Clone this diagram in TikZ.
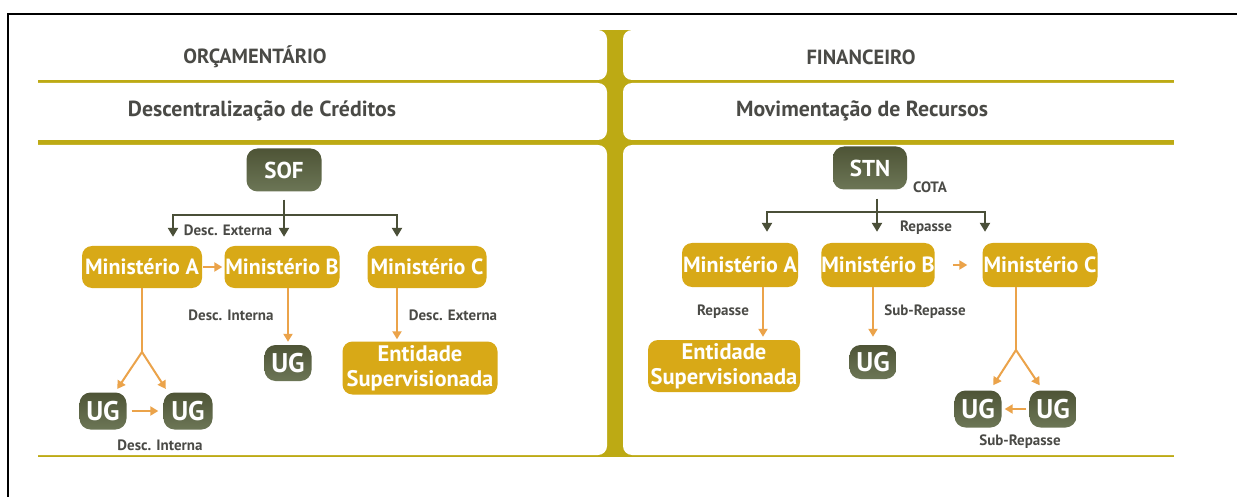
\documentclass[tikz,border=0pt]{standalone}
\usepackage{fontspec}
\setmainfont{PT Sans}
\usetikzlibrary{arrows.meta,calc}
\definecolor{olive}{HTML}{BDAA14}
\definecolor{gold}{HTML}{D8A917}
\definecolor{darktop}{HTML}{4E5436}
\definecolor{darkbot}{HTML}{6C7656}
\definecolor{inkdark}{HTML}{4A4F38}
\definecolor{orangeln}{HTML}{EBA34A}
\definecolor{textgray}{HTML}{4A4A46}
\newcommand{\fsz}[1]{\fontsize{#1}{#1}\selectfont}
\tikzset{
  hdr/.style={text=textgray, font=\bfseries\fsz{20.5}, inner sep=0pt},
  subhdr/.style={text=textgray, font=\bfseries\fsz{21.8}, inner sep=0pt},
  lbl/.style={text=textgray, font=\bfseries\fsz{15}, inner sep=0pt},
  ministry/.style={fill=gold, rounded corners=10pt, text=white,
    font=\bfseries\fsz{22}, inner sep=0pt, minimum height=42pt},
  entity/.style={ministry, align=center, font=\bfseries\fontsize{22.5}{25}\selectfont},
  darkbox/.style={top color=darktop, bottom color=darkbot, rounded corners=11pt,
    text=white, inner sep=0pt},
  ugbox/.style={darkbox, font=\bfseries\fsz{27}, minimum width=47pt, minimum height=37pt},
  rootbox/.style={darkbox, font=\bfseries\fsz{23}, minimum height=43pt},
  dkline/.style={draw=inkdark, line width=2.6pt},
  dkarrow/.style={dkline, -{Triangle[width=10pt,length=9pt]}},
  orline/.style={draw=orangeln, line width=2pt},
  orarrow/.style={orline, -{Triangle[width=9pt,length=8pt]}},
}
\begin{document}
\begin{tikzpicture}[x=1pt,y=-1pt]
\useasboundingbox (0,0) rectangle (1237,497);
% outer frame
\draw[line width=2pt] (8,497) -- (8,14) -- (1237,14);

% olive grid: a filled backdrop with white rounded cells on top
\fill[olive] (38,30) rectangle (1174,457);
\begin{scope}[fill=white, rounded corners=9pt]
  \fill (20,30) rectangle (607,80);
  \fill (20,83) rectangle (607,140);
  \fill (20,145) rectangle (607,455);
  \fill (623,30) rectangle (1190,80);
  \fill (623,83) rectangle (1190,140);
  \fill (623,145) rectangle (1190,455);
\end{scope}

% headings
\node[hdr] (hL) at (255,57) {ORÇAMENTÁRIO};
\node[hdr] (hR) at (861,57) {FINANCEIRO};
\node[subhdr] (sL) at (262,111) {Descentralização de Créditos};
\node[subhdr] (sR) at (862,111) {Movimentação de Recursos};

% ---------- budget side ----------
\node[rootbox, minimum width=75pt] (sof) at (284,170) {SOF};
\node[ministry, minimum width=120pt] (miA) at (142,267) {Ministério A};
\node[ministry, minimum width=115pt] (miB) at (282,267) {Ministério B};
\node[ministry, minimum width=119pt] (miC) at (427,267) {Ministério C};
\node[ugbox] (ug1) at (103,411) {UG};
\node[ugbox, minimum width=49pt] (ug2) at (188,411) {UG};
\node[ugbox, minimum height=36pt] (ug3) at (288,363) {UG};
\node[entity, minimum width=155pt, minimum height=53pt] (ent1) at (420,368) {Entidade\\Supervisionada};

\coordinate (jl) at (284,215);
\coordinate (jlA) at (173,215);
\coordinate (jlC) at (397,215);
\draw[dkline, shorten <=8pt] (sof.south) -- (jl);
\draw[dkline, line cap=rect] (jlA) -- (jlC);
\draw[dkarrow, shorten >=9pt] (jlA) -- (jlA |- miA.north);
\draw[dkarrow, shorten >=9pt] (jl) -- (jl |- miB.north);
\draw[dkarrow, shorten >=9pt] (jlC) -- (jlC |- miC.north);

\draw[orarrow, shorten <=1pt, shorten >=2pt] (miA.east) -- (miB.west);
\coordinate (sA) at (142,352);
\draw[orline] (miA.south) -- (sA);
\draw[orarrow, shorten >=4pt] (sA) -- ($(ug1.north)+(12,0)$);
\draw[orarrow, shorten >=4pt] (sA) -- ($(ug2.north)+(-20,0)$);
\draw[orarrow, shorten <=5pt, shorten >=5pt] (ug1.east) -- (ug2.west);
\draw[orarrow, shorten >=3pt] (ug3 |- miB.south) -- (ug3.north);
\draw[orarrow, shorten >=2pt] (jlC |- miC.south) -- (jlC |- ent1.north);

\node[lbl] (l1) at (228,230) {Desc. Externa};
\node[lbl] (l2) at (231,315) {Desc. Interna};
\node[lbl] (l3) at (453,315) {Desc. Externa};
\node[lbl] (l4) at (160,445) {Desc. Interna};

% ---------- financial side ----------
\node[rootbox, minimum width=74pt] (stn) at (870,168) {STN};
\node[ministry, minimum width=116pt, minimum height=44pt] (mA) at (740,265) {Ministério A};
\node[ministry, minimum width=113pt, minimum height=44pt] (mB) at (878,265) {Ministério B};
\node[ministry, minimum width=115pt, minimum height=44pt] (mC) at (1040,265) {Ministério C};
\node[entity, minimum width=152pt, minimum height=52pt] (ent2) at (724,366) {Entidade\\Supervisionada};
\node[ugbox, minimum height=34pt] (ugB) at (873,362) {UG};
\node[ugbox] (ugC1) at (978,409) {UG};
\node[ugbox] (ugC2) at (1053,409) {UG};

\coordinate (jr) at (877,212);
\coordinate (jrA) at (767,212);
\coordinate (jrC) at (985,212);
\draw[dkline, shorten <=9pt] (jr |- stn.south) -- (jr);
\draw[dkline, line cap=rect] (jrA) -- (jrC);
\draw[dkarrow, shorten >=11pt] (jrA) -- (jrA |- mA.north);
\draw[dkarrow, shorten >=11pt] (jr) -- (jr |- mB.north);
\draw[dkarrow, shorten >=11pt] (jrC) -- (jrC |- mC.north);

\draw[orarrow, shorten <=18pt, shorten >=15pt] (mB.east) -- (mC.west);
\coordinate (rA) at ($(mA.south)+(23,0)$);
\draw[orarrow, shorten >=3pt] (rA) -- (rA |- ent2.north);
\draw[orarrow, shorten >=8pt] (ugB |- mB.south) -- (ugB.north);
\coordinate (sC) at (1016,350);
\draw[orline] (sC |- mC.south) -- (sC);
\draw[orarrow, shorten >=6pt] (sC) -- ($(ugC1.north)+(12,0)$);
\draw[orarrow, shorten >=6pt] (sC) -- ($(ugC2.north)+(-10,0)$);
\draw[orarrow, shorten <=3pt, shorten >=3pt] (ugC2.west) -- (ugC1.east);

\node[lbl] (r1) at (930,187) {COTA};
\node[lbl] (r2) at (926,228) {Repasse};
\node[lbl] (r3) at (723,312) {Repasse};
\node[lbl] (r4) at (925,312) {Sub-Repasse};
\node[lbl] (r5) at (1020,442) {Sub-Repasse};
\end{tikzpicture}
\end{document}
